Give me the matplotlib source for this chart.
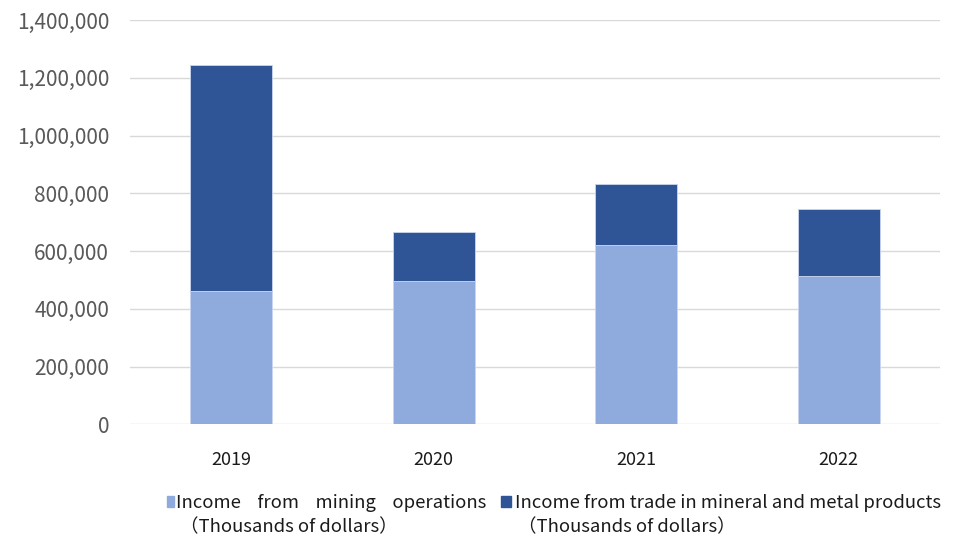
import matplotlib

matplotlib.use("Agg")
import matplotlib.pyplot as plt
from matplotlib.patches import Rectangle
from matplotlib.ticker import FuncFormatter

plt.rcParams["font.family"] = ["Noto Sans CJK SC", "DejaVu Sans"]

years = ["2019", "2020", "2021", "2022"]
mining = [462000, 496000, 620000, 512000]
trade = [782000, 169000, 212000, 234000]

legend_lines = [
    ["Income    from    mining    operations", "（Thousands of dollars）"],
    ["Income from trade in mineral and metal products", "（Thousands of dollars）"],
]

LIGHT = "#8FAADC"
DARK = "#2F5597"
W, H = 954, 540

fig = plt.figure(figsize=(W / 100, H / 100), dpi=100)
ax = fig.add_axes([130 / W, 1 - 424.3 / H, 810 / W, 404.3 / H])

x = range(len(years))
ax.bar(x, mining, width=0.405, color=LIGHT, edgecolor="#c9d6ee", linewidth=0.6, zorder=2)
ax.bar(x, trade, width=0.405, bottom=mining, color=DARK, edgecolor="#c9d6ee",
       linewidth=0.6, zorder=2)

ax.set_xlim(-0.5, len(years) - 0.5)
ax.set_ylim(0, 1400000)
ax.set_yticks(range(0, 1400001, 200000))
ax.yaxis.set_major_formatter(FuncFormatter(lambda v, _: f"{int(v):,}"))
ax.grid(axis="y", color="#d9d9d9", linewidth=1, zorder=0)
for s in ax.spines.values():
    s.set_visible(False)
ax.tick_params(axis="both", length=0)
ax.tick_params(axis="y", labelsize=15, labelcolor="#595959", pad=15)
ax.set_xticks(list(x))
ax.set_xticklabels(years, fontsize=13, color="#1a1a1a")
ax.tick_params(axis="x", pad=19)

# legend drawn by hand so the swatch sits on the first text line
def px(xp, yp):
    return xp / W, 1 - yp / H

for (sx, sw), col in zip([(167, 7), (501, 10)], [LIGHT, DARK]):
    fig.patches.append(Rectangle(px(sx, 507), sw / W, 11 / H, transform=fig.transFigure,
                                 color=col, figure=fig))
for (x1, x2), lines in zip([(176, 180), (515, 518)], legend_lines):
    fig.text(*px(x1, 508), lines[0], fontsize=13.3, color="#1a1a1a", va="baseline")
    fig.text(*px(x2, 532), lines[1], fontsize=13.3, color="#1a1a1a", va="baseline")

fig.savefig("out.png", dpi=100)
